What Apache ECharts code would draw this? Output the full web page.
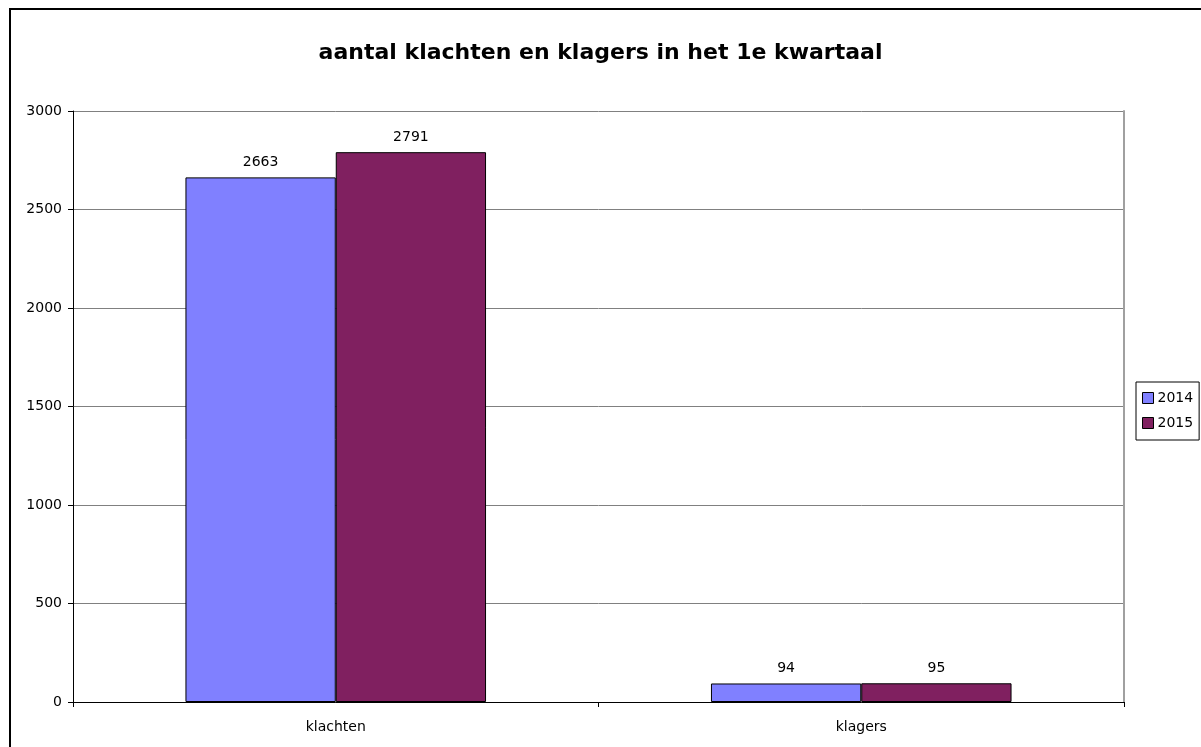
<!DOCTYPE html>
<html>
<head>
<meta charset="utf-8">
<script src="https://cdn.jsdelivr.net/npm/echarts@6/dist/echarts.min.js"></script>
<style>
html,body{margin:0;padding:0;background:#fff;}
#chart{width:1201px;height:747px;}
</style>
</head>
<body>
<div id="chart"></div>
<script>
const titleText = 'aantal klachten en klagers in het 1e kwartaal';
const categories = ['klachten', 'klagers'];
const seriesNames = ['2014', '2015'];
const values2014 = [2663, 94];
const values2015 = [2791, 95];
const yTicks = { min: 0, max: 3000, interval: 500 };

const colors = ['#8080FF', '#802060'];
const font = '"DejaVu Sans", Arial, sans-serif';

const chart = echarts.init(document.getElementById('chart'), null, { renderer: 'canvas' });

function mkSeries(name, data, color) {
  return {
    name: name,
    type: 'bar',
    data: data,
    barGap: '0%',
    barCategoryGap: '42.8%',
    itemStyle: { color: color, borderColor: '#000', borderWidth: 1 },
    label: { show: true, position: 'top', distance: 8, color: '#000', fontFamily: font, fontSize: 14 }
  };
}

chart.setOption({
  animation: false,
  backgroundColor: '#fff',
  title: {
    text: titleText,
    left: 'center',
    top: 37,
    textStyle: { fontFamily: font, fontSize: 22, fontWeight: 'bold', color: '#000' }
  },
  legend: {
    orient: 'vertical',
    left: 1136,
    top: 382,
    padding: [8, 6, 9, 6],
    itemGap: 9,
    itemWidth: 11,
    itemHeight: 11,
    borderColor: '#000',
    borderWidth: 1,
    textStyle: { fontFamily: font, fontSize: 14, color: '#000', padding: [0, 0, 0, -1], lineHeight: 16 },
    itemStyle: { borderColor: '#000', borderWidth: 1 },
    data: seriesNames.map((n) => ({ name: n, icon: 'rect' }))
  },
  grid: { left: 73, right: 77, top: 111, bottom: 45, containLabel: false },
  xAxis: {
    type: 'category',
    data: categories,
    boundaryGap: true,
    axisLine: { lineStyle: { color: '#000', width: 1 } },
    axisTick: { show: true, alignWithLabel: false, length: 5, lineStyle: { color: '#000' } },
    axisLabel: { fontFamily: font, fontSize: 14, color: '#000', margin: 18 }
  },
  yAxis: [{
    type: 'value',
    min: yTicks.min,
    max: yTicks.max,
    interval: yTicks.interval,
    axisLine: { show: true, lineStyle: { color: '#000', width: 1 } },
    axisTick: { show: true, length: 5, lineStyle: { color: '#000' } },
    axisLabel: { fontFamily: font, fontSize: 14, color: '#000', margin: 11, formatter: (v) => String(v) },
    splitLine: { show: true, lineStyle: { color: '#808080', width: 1 } }
  }, {
    type: 'value',
    position: 'right',
    min: yTicks.min,
    max: yTicks.max,
    interval: yTicks.interval,
    axisLine: { show: true, lineStyle: { color: '#a0a0a0', width: 2 } },
    axisTick: { show: false },
    axisLabel: { show: false },
    splitLine: { show: false }
  }],
  series: [
    mkSeries(seriesNames[0], values2014, colors[0]),
    mkSeries(seriesNames[1], values2015, colors[1])
  ],
  graphic: [{
    type: 'rect',
    silent: true,
    shape: { x: 10, y: 9, width: 1400, height: 900 },
    style: { fill: null, stroke: '#000', lineWidth: 2 }
  }]
});
</script>
</body>
</html>
